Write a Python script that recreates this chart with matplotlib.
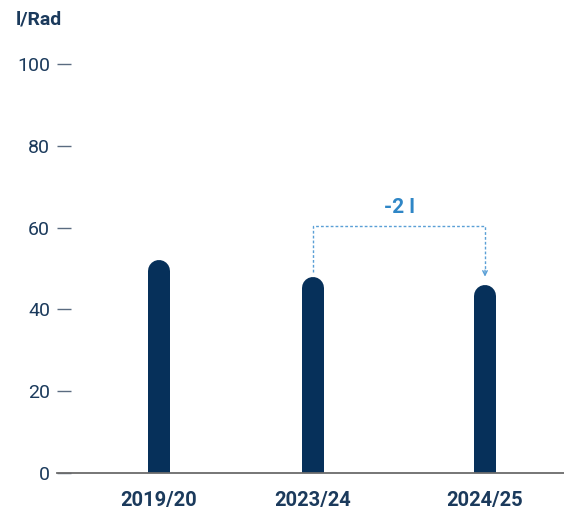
import matplotlib
matplotlib.use("Agg")
import matplotlib.pyplot as plt

categories = ["2019/20", "2023/24", "2024/25"]
values = [52, 48, 46]
yticks = [0, 20, 40, 60, 80, 100]
unit_label = "l/Rad"
diff_label = "-2 l"

plt.rcParams['font.family'] = ['Roboto', 'DejaVu Sans']

W, H, DPI = 564, 515, 100
fig = plt.figure(figsize=(W / DPI, H / DPI), dpi=DPI)

ax_left, ax_right = 57, 564
y0_px, y100_px = 473, 64
ax = fig.add_axes([ax_left / W, (H - y0_px) / H, (ax_right - ax_left) / W, (y0_px - y100_px) / H])
ax.set_xlim(ax_left, ax_right)
ax.set_ylim(0, 100)

navy = "#06305a"
text_navy = "#1b3a5c"
blue = "#2f86c6"
dot_blue = "#5a9fd6"

xpos = [159, 313, 485]  # pixel-based layout positions
bar_px = 22
px_per_unit = (y0_px - y100_px) / 100
r_units = (bar_px / 2) / px_per_unit
for x, v in zip(xpos, values):
    ax.plot([x, x], [-10, v - r_units], color=navy, lw=bar_px * 72 / DPI,
            solid_capstyle='round', zorder=3)

for s in ["left", "right", "top"]:
    ax.spines[s].set_visible(False)
ax.spines["bottom"].set_color("#6b6b6b")
ax.spines["bottom"].set_linewidth(1.3)
ax.spines["bottom"].set_zorder(5)

ax.set_yticks(yticks)
ax.set_yticklabels([str(t) for t in yticks])
ax.tick_params(axis='y', direction='in', length=10, width=1.0, color="#5a6b80",
               pad=5, labelsize=14, labelcolor=text_navy)
for t in ax.yaxis.get_major_ticks():
    t.tick1line.set_clip_on(False)

ax.set_xticks(xpos)
ax.set_xticklabels(categories, fontweight='bold')
ax.tick_params(axis='x', length=0, pad=13, labelsize=14.5, labelcolor=text_navy)

fig.text(16 / W, 1 - 20 / H, unit_label, fontsize=14, fontweight='bold',
         color=text_navy, ha='left', va='center')

# bracket
x1, x2 = xpos[1], xpos[2]
y_top = 60.5
y_left_bottom = values[1] + 1.2
y_right_tip = values[2] + 2
ax.plot([x1, x1, x2, x2], [y_left_bottom, y_top, y_top, y_right_tip + 1.5],
        color=dot_blue, lw=1.0, ls=(0, (2, 1.5)), zorder=4)
ax.annotate("", xy=(x2, y_right_tip), xytext=(x2, y_right_tip + 1.6),
            arrowprops=dict(arrowstyle='->', color=dot_blue, lw=1.0,
                            shrinkA=0, shrinkB=0, mutation_scale=8))
ax.text((x1 + x2) / 2, 64.8, diff_label, color=blue, fontsize=15,
        fontweight='bold', ha='center', va='center')

fig.savefig("out.png", dpi=DPI)
